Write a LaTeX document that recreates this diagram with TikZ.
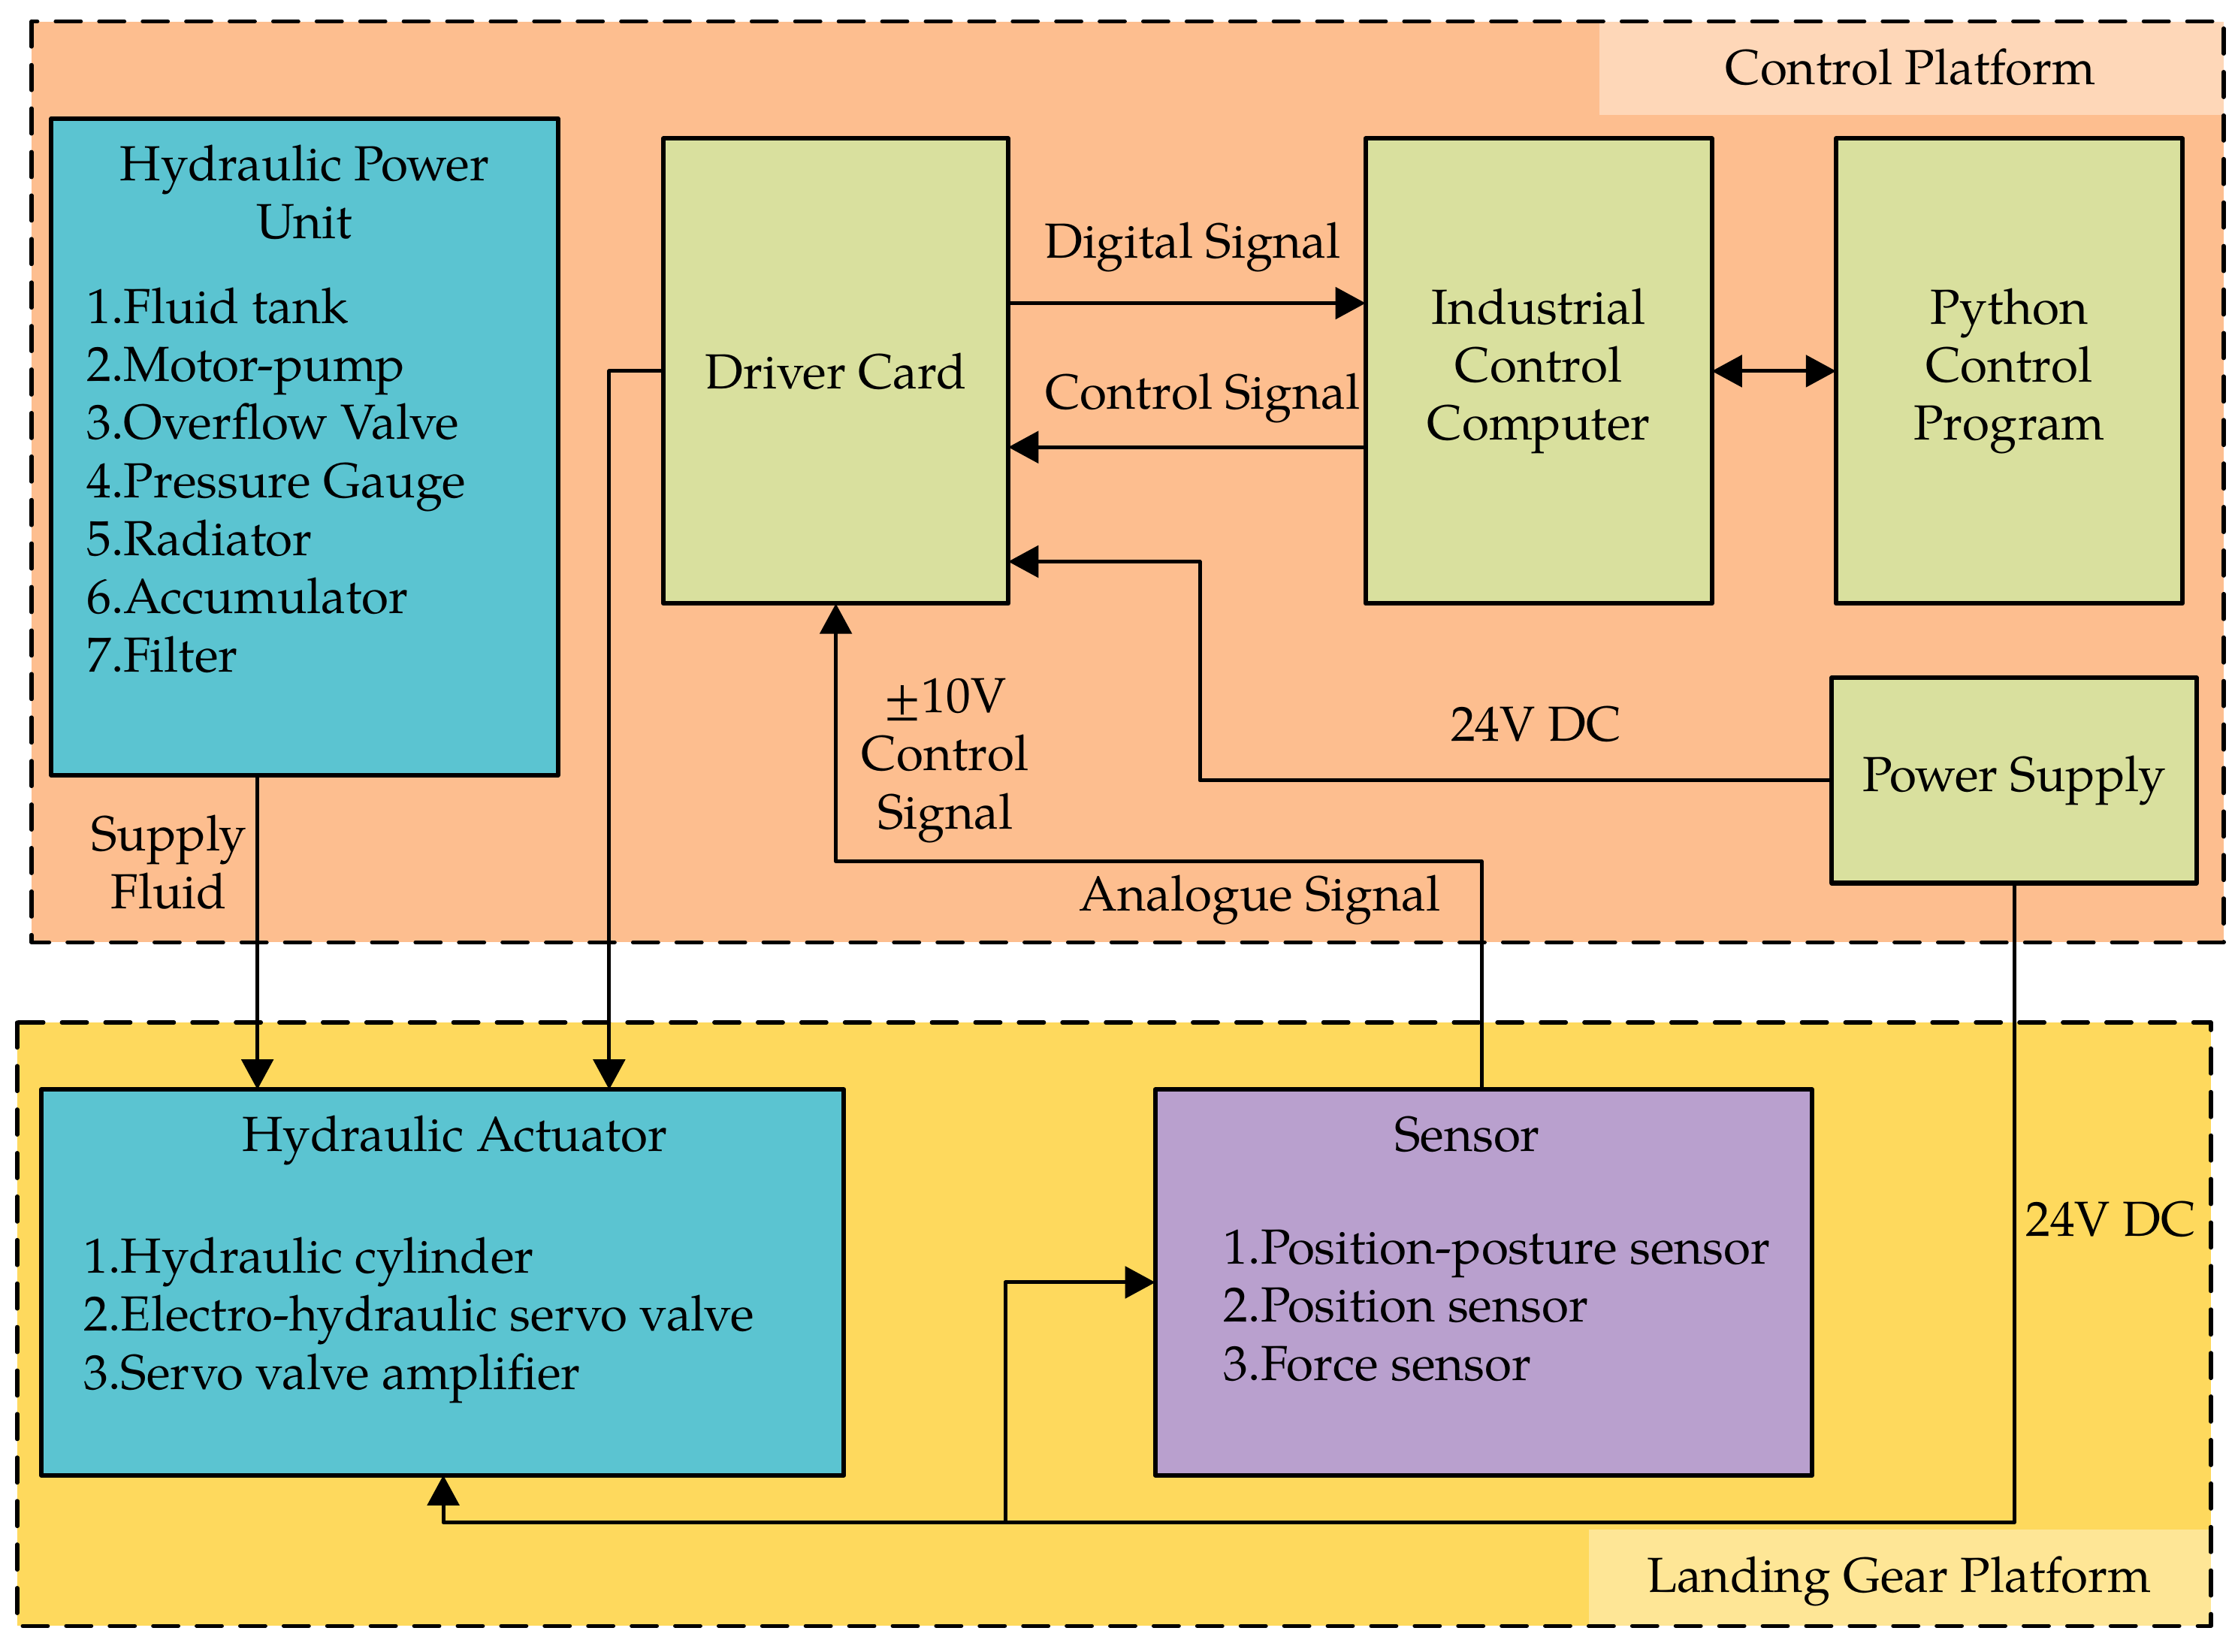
\documentclass[tikz,border=0pt]{standalone}
\usepackage{fontspec}
\setmainfont{TeX Gyre Pagella}
\usetikzlibrary{arrows.meta}
\definecolor{ctrlbg}{RGB}{253,190,143}
\definecolor{ctrltag}{RGB}{254,215,184}
\definecolor{gearbg}{RGB}{254,217,93}
\definecolor{geartag}{RGB}{254,230,150}
\definecolor{hyd}{RGB}{91,196,209}
\definecolor{elec}{RGB}{217,224,158}
\definecolor{sens}{RGB}{185,160,206}
\begin{document}
\begin{tikzpicture}[x=0.01cm, y=-0.01cm, font=\fontsize{9.8}{11.55}\selectfont, line join=round, >={Triangle[length=6pt,width=6.3pt]},
  card/.style={draw, line width=0.9pt, inner sep=0pt, outer sep=0pt, align=center},
  lbl/.style={inner sep=0pt, execute at begin node=\strut, execute at end node=\strut},
  link/.style={line width=0.75pt},
  zone/.style={line width=0.8pt, line cap=round, dash pattern=on 5pt off 3.65pt}]
\useasboundingbox (0,0) rectangle (1565,1155.2);
% Vung dieu khien
\fill[ctrlbg] (22,15) rectangle (1555,659);
\fill[ctrltag] (1118.5,15) rectangle (1555,80.4);
\draw[zone] (22,15) rectangle (1555,659);
% Vung cang dap
\fill[gearbg] (12,715) rectangle (1546,1137);
\fill[geartag] (1111,1069.4) rectangle (1546,1137);
\draw[zone] (12,715) rectangle (1546,1137);
% Cac khoi
\node[card, fill=hyd, minimum width=3.54cm, minimum height=4.59cm] (hpu) at (213,312.5) {};
\node[card, fill=elec, minimum width=2.41cm, minimum height=3.25cm] (drv) at (584.5,259.5) {Driver Card};
\node[card, fill=elec, minimum width=2.42cm, minimum height=3.25cm] (icc) at (1076,259.5) {Industrial\\Control\\Computer};
\node[card, fill=elec, minimum width=2.42cm, minimum height=3.25cm] (py) at (1405,259.5) {Python\\Control\\Program};
\node[card, fill=elec, minimum width=2.55cm, minimum height=1.435cm] (ps) at (1408.5,545.75) {Power Supply};
\node[card, fill=hyd, minimum width=5.61cm, minimum height=2.695cm] (act) at (309.5,896.75) {};
\node[card, fill=sens, minimum width=4.59cm, minimum height=2.695cm] (sen) at (1037.5,896.75) {};
% Duong noi
\coordinate (jn) at (703,1064.7);
\draw[link, ->] (drv.east |- 0,212) -- (icc.west |- 0,212);
\draw[link, ->] (icc.west |- 0,312.7) -- (drv.east |- 0,312.7);
\draw[link, <->] (icc) -- (py);
\draw[link, ->] (ps.west) -| (839,392.7) -- (drv.east |- 0,392.7);
\draw[link, ->] (sen.north -| 1036,0) |- (drv.south |- 0,602.2) -- (drv.south);
\draw[link, ->] (drv.west) -| (act.north -| 426,0);
\draw[link, ->] (hpu.south -| 180,0) -- (act.north -| 180,0);
\draw[link, ->] (ps.south) |- (310,1064.7) -- (act.south -| 310,0);
\draw[link, ->] (jn) |- (sen.west);
% Nhan
\node[lbl, anchor=base] (cpT) at (1336,59) {Control Platform};
\node[lbl, anchor=base] (lgT) at (1328,1113.6) {Landing Gear Platform};
\node[lbl, align=center] (hpuT) at (213,140) {Hydraulic Power\\Unit};
\node[lbl, align=left, anchor=west] (hpuL) at (60,341.4) {1.Fluid tank\\2.Motor-pump\\3.Overflow Valve\\4.Pressure Gauge\\5.Radiator\\6.Accumulator\\7.Filter};
\node[lbl, anchor=base] (dgT) at (834,180.7) {Digital Signal};
\node[lbl, anchor=base] (csT) at (841,285.8) {Control Signal};
\node[lbl, anchor=base] (dcT) at (1074,518) {24V DC};
\node[lbl, align=center] (tenT) at (661,533) {±10V\\Control\\Signal};
\node[lbl, anchor=base] (anT) at (881,636.8) {Analogue Signal};
\node[lbl, align=center] (sfT) at (118,608.6) {Supply\\Fluid};
\node[lbl, anchor=base] (actT) at (318,805) {Hydraulic Actuator};
\node[lbl, align=left, anchor=west] (actL) at (58,924.4) {1.Hydraulic cylinder\\2.Electro-hydraulic servo valve\\3.Servo valve amplifier};
\node[lbl, anchor=base] (senT) at (1026,805) {Sensor};
\node[lbl, align=left, anchor=west] (senL) at (855,918.7) {1.Position-posture sensor\\2.Position sensor\\3.Force sensor};
\node[lbl, anchor=base] (dc2T) at (1476,864.4) {24V DC};
\end{tikzpicture}
\end{document}
